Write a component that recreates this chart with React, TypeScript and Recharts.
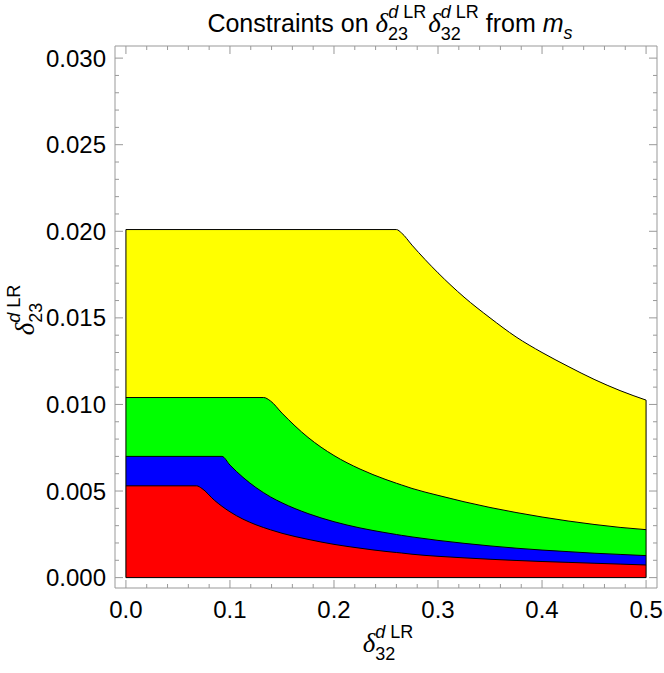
import { ComposedChart, Area, XAxis, YAxis, ReferenceLine } from 'recharts';

// x positions shared by all four regions (null where a region has no point)
const X_VALUES = [
  0, 0.068, 0.073, 0.085, 0.0923, 0.1, 0.125, 0.1324, 0.139, 0.15, 0.175, 0.2, 0.225,
  0.25, 0.26, 0.265, 0.275, 0.3, 0.325, 0.35, 0.375, 0.4, 0.425, 0.45, 0.475, 0.5,
];
const YELLOW = [
  0.0201, null, null, null, null, null, null, null, null, null, null, null, null,
  null, 0.0201, 0.0199, 0.0192, 0.0176, 0.0162, 0.015, 0.0139, 0.013, 0.0122, 0.01145, 0.0108, 0.01025,
];
const GREEN = [
  0.0104, null, null, null, null, null, null, 0.0104, 0.0102, 0.0095, 0.0081, 0.00705, 0.00627,
  0.00566, 0.00545, 0.00535, 0.00515, 0.00475, 0.00438, 0.00405, 0.00376, 0.0035, 0.00327, 0.00307, 0.0029, 0.00277,
];
const BLUE = [
  0.007, null, null, null, 0.007, 0.0065, 0.0052, 0.0049, 0.00466, 0.00432, 0.0037, 0.00323, 0.00287,
  0.00259, 0.00249, 0.00244, 0.00235, 0.00215, 0.00198, 0.00183, 0.0017, 0.00159, 0.0015, 0.00141, 0.00134, 0.00127,
];
const RED = [
  0.0053, 0.0053, 0.00515, 0.00447, 0.00412, 0.0038, 0.00305, 0.00289, 0.00276, 0.00256, 0.00221, 0.00192, 0.0017,
  0.00151, 0.00145, 0.00142, 0.00135, 0.00123, 0.00114, 0.00106, 0.00099, 0.00093, 0.00088, 0.00083, 0.00078, 0.00073,
];

const X_TICKS = [
  0, 0.02, 0.04, 0.06, 0.08, 0.1, 0.12, 0.14, 0.16, 0.18, 0.2, 0.22, 0.24,
  0.26, 0.28, 0.3, 0.32, 0.34, 0.36, 0.38, 0.4, 0.42, 0.44, 0.46, 0.48, 0.5,
];
const Y_TICKS = [
  0, 0.001, 0.002, 0.003, 0.004, 0.005, 0.006, 0.007, 0.008, 0.009, 0.01,
  0.011, 0.012, 0.013, 0.014, 0.015, 0.016, 0.017, 0.018, 0.019, 0.02,
  0.021, 0.022, 0.023, 0.024, 0.025, 0.026, 0.027, 0.028, 0.029, 0.03,
];

const data = X_VALUES.map((x, i) => ({
  x,
  yellow: YELLOW[i],
  green: GREEN[i],
  blue: BLUE[i],
  red: RED[i],
}));

const X_DOMAIN = [-0.0105, 0.5105];
const Y_DOMAIN = [-0.0006, 0.0307];
const FRAME = '#999';
const SANS = '"Liberation Sans", Arial, Helvetica, sans-serif';
const SERIF = '"Liberation Serif", "DejaVu Serif", serif';
const W = 664;
const H = 673;

const isMajor = (v: number, step: number) => Math.abs(v / step - Math.round(v / step)) < 1e-6;

const BottomTick = ({ x, y, payload }: any) => {
  const major = isMajor(payload.value, 0.1);
  return (
    <g>
      <line x1={x} x2={x} y1={y} y2={y - (major ? 8 : 4)} stroke={FRAME} />
      {major && (
        <text x={x} y={y + 30} textAnchor="middle" fontSize={24} fontFamily={SANS} fill="#000">
          {payload.value.toFixed(1)}
        </text>
      )}
    </g>
  );
};

const TopTick = ({ x, y, payload }: any) => {
  const major = isMajor(payload.value, 0.1);
  return <line x1={x} x2={x} y1={y} y2={y + (major ? 8 : 4)} stroke={FRAME} />;
};

const LeftTick = ({ x, y, payload }: any) => {
  const major = isMajor(payload.value, 0.005);
  return (
    <g>
      <line x1={x} x2={x + (major ? 8 : 4)} y1={y} y2={y} stroke={FRAME} />
      {major && (
        <text x={x - 9} y={y + 8.5} textAnchor="end" fontSize={24} fontFamily={SANS} fill="#000">
          {payload.value.toFixed(3)}
        </text>
      )}
    </g>
  );
};

const RightTick = ({ x, y, payload }: any) => {
  const major = isMajor(payload.value, 0.005);
  return <line x1={x} x2={x - (major ? 8 : 4)} y1={y} y2={y} stroke={FRAME} />;
};

// δ with a subscript and a "d LR" superscript
const Delta = ({ sub, after }: { sub: string; after?: string }) => (
  <>
    <tspan fontFamily={SERIF} fontStyle="italic" fontSize={27}>δ</tspan>
    <tspan fontSize={18} dy={8}>{sub}</tspan>
    <tspan fontSize={18} dx={-20} dy={-22} fontStyle="italic">d</tspan>
    <tspan fontSize={18}>{'\u00A0LR'}</tspan>
    {after && <tspan dy={14}>{after}</tspan>}
  </>
);

const areaProps = {
  type: 'monotone' as const,
  baseValue: 0,
  connectNulls: true,
  stroke: '#000',
  strokeWidth: 1,
  fillOpacity: 1,
  dot: false,
  activeDot: false,
  isAnimationActive: false,
};

export default function App() {
  const last = X_VALUES.length - 1;
  // fixed to the viewport so the frame and the "0.5" label are not clipped by the page margin
  return (
    <div style={{ position: 'fixed', left: 0, top: 0, width: W, height: H, background: '#fff' }}>
      <ComposedChart width={W} height={H} data={data} margin={{ top: 0, right: 0, bottom: 0, left: 0 }}>
        <XAxis
          dataKey="x"
          type="number"
          domain={X_DOMAIN}
          allowDataOverflow
          ticks={X_TICKS}
          interval={0}
          height={85}
          tickSize={0}
          tickMargin={0}
          tickLine={false}
          axisLine={{ stroke: FRAME }}
          tick={(p: any) => <BottomTick {...p} />}
        />
        <XAxis
          xAxisId="top"
          orientation="top"
          dataKey="x"
          type="number"
          domain={X_DOMAIN}
          allowDataOverflow
          ticks={X_TICKS}
          interval={0}
          height={46}
          tickSize={0}
          tickMargin={0}
          tickLine={false}
          axisLine={{ stroke: FRAME }}
          tick={(p: any) => <TopTick {...p} />}
        />
        <YAxis
          type="number"
          domain={Y_DOMAIN}
          allowDataOverflow
          ticks={Y_TICKS}
          interval={0}
          width={115}
          tickSize={0}
          tickMargin={0}
          tickLine={false}
          axisLine={{ stroke: FRAME }}
          tick={(p: any) => <LeftTick {...p} />}
        />
        <YAxis
          yAxisId="right"
          orientation="right"
          type="number"
          domain={Y_DOMAIN}
          allowDataOverflow
          ticks={Y_TICKS}
          interval={0}
          width={7}
          tickSize={0}
          tickMargin={0}
          tickLine={false}
          axisLine={{ stroke: FRAME }}
          tick={(p: any) => <RightTick {...p} />}
        />
        <Area {...areaProps} dataKey="yellow" fill="#FFFF00" />
        <Area {...areaProps} dataKey="green" fill="#00FF00" />
        <Area {...areaProps} dataKey="blue" fill="#0000FF" />
        <Area {...areaProps} dataKey="red" fill="#FF0000" />
        <ReferenceLine
          segment={[{ x: X_VALUES[0], y: 0 }, { x: X_VALUES[0], y: YELLOW[0] as number }]}
          stroke="#000"
        />
        <ReferenceLine
          segment={[{ x: X_VALUES[last], y: 0 }, { x: X_VALUES[last], y: YELLOW[last] as number }]}
          stroke="#000"
        />
        <ReferenceLine segment={[{ x: X_VALUES[0], y: 0 }, { x: X_VALUES[last], y: 0 }]} stroke="#000" />
      </ComposedChart>
      <svg
        width={W}
        height={H}
        style={{ position: 'absolute', left: 0, top: 0, pointerEvents: 'none' }}
        fontFamily={SANS}
        fill="#000"
      >
        <text x={390} y={32} textAnchor="middle" fontSize={25}>
          Constraints on{'\u00A0'}
          <Delta sub="23" />
          <tspan dy={14}>{'\u200A'}</tspan>
          <Delta sub="32" after={'\u00A0from\u00A0'} />
          <tspan fontStyle="italic">m</tspan>
          <tspan fontStyle="italic" fontSize={18} dy={7}>s</tspan>
        </text>
        <text x={388} y={652} textAnchor="middle" fontSize={24}>
          <Delta sub="32" />
        </text>
        <text transform="translate(34,310) rotate(-90)" x={0} y={0} textAnchor="middle" fontSize={24}>
          <Delta sub="23" />
        </text>
      </svg>
    </div>
  );
}
